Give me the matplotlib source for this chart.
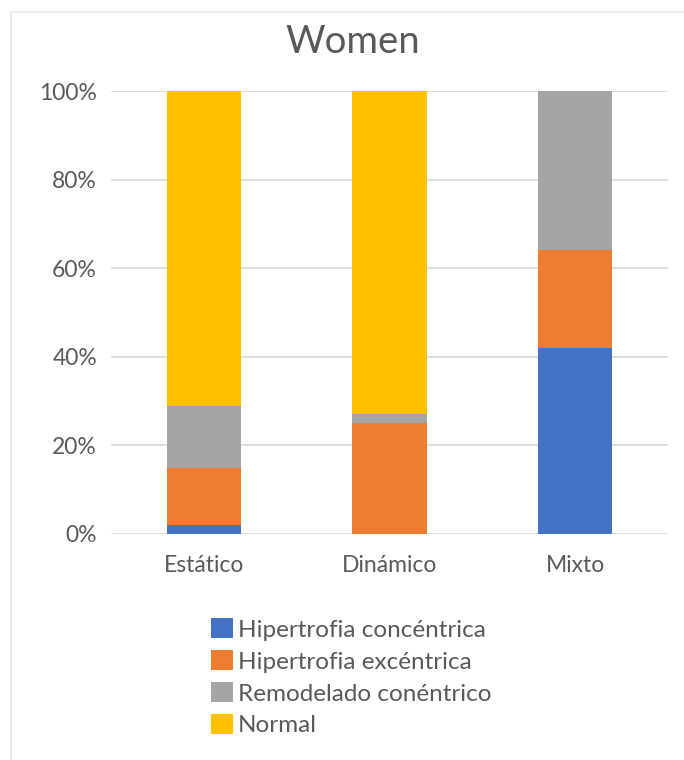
import numpy as np
from matplotlib import pyplot as plt
from matplotlib.lines import Line2D

plt.rcParams['font.family'] = ['Lato', 'DejaVu Sans']

grupos = ['Estático', 'Dinámico', 'Mixto']
series = ['Hipertrofia concéntrica', 'Hipertrofia excéntrica',
          'Remodelado conéntrico', 'Normal']
colores = ['#4472C4', '#ED7D31', '#A5A5A5', '#FFC000']

# porcentajes por grupo (cada columna suma 100)
concentrica = [2, 0, 42]
excentrica = [13, 25, 22]
remodelado = [14, 2, 36]
normal = [71, 73, 0]

valores = [concentrica, excentrica, remodelado, normal]

fig = plt.figure(figsize=(6.84, 7.6), dpi=100)
ax = fig.add_axes([111 / 684, 1 - 534 / 760, 557 / 684, 443 / 760])

x = np.arange(len(grupos))
base = np.zeros(len(grupos))
for nombre, vals, c in zip(series, valores, colores):
    ax.bar(x, vals, 0.4, bottom=base, color=c, label=nombre, zorder=3)
    base += np.array(vals)

ax.set_xlim(-0.5, 2.5)
ax.set_ylim(0, 100)
ax.set_yticks(range(0, 101, 20))
ax.set_yticklabels([f'{v}%' for v in range(0, 101, 20)])
ax.set_xticks(x)
ax.set_xticklabels(grupos)
ax.tick_params(length=0, labelsize=16.5, colors='#595959')
ax.tick_params(axis='y', pad=10)
ax.tick_params(axis='x', pad=15)
ax.grid(axis='y', color='#d9d9d9', linewidth=1.2, zorder=0)
for s in ax.spines.values():
    s.set_visible(False)

fig.text(353 / 684, 1 - 42 / 760, 'Women', ha='center', va='center',
         fontsize=27.5, color='#595959')

fig.legend(loc='upper left', bbox_to_anchor=(199 / 684, 1 - 606 / 760),
           frameon=False, fontsize=17.5, labelcolor='#595959',
           handlelength=0.9, handleheight=0.9, handletextpad=0.2,
           labelspacing=0.39, borderpad=0)

# marco exterior del gráfico
fig.add_artist(Line2D([11 / 684, 11 / 684], [0, 1 - 12 / 760],
                      color='#e6e6e6', linewidth=1.2))
fig.add_artist(Line2D([11 / 684, 1], [1 - 12 / 760, 1 - 12 / 760],
                      color='#e6e6e6', linewidth=1.2))

fig.savefig('out.png', dpi=100)
